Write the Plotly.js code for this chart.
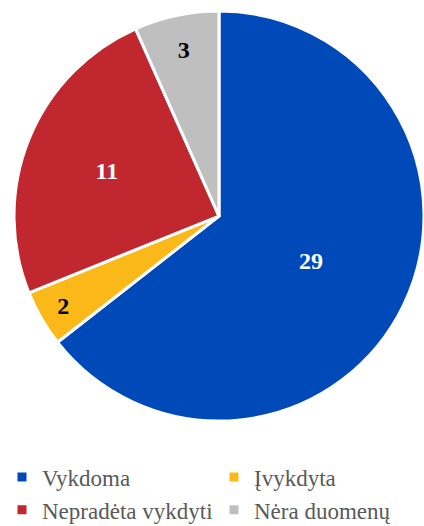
<!DOCTYPE html>
<html>
<head>
<meta charset="utf-8">
<script src="https://cdn.plot.ly/plotly-3.0.1.min.js"></script>
<style>html,body{margin:0;padding:0;background:#fff;}#chart{width:424px;height:526px;}</style>
</head>
<body>
<div id="chart"></div>
<script>
const labels = ["Vykdoma", "Įvykdyta", "Nepradėta vykdyti", "Nėra duomenų"];
const values = [29, 2, 11, 3];
const colors = ["#0049B9", "#FBB819", "#C0272F", "#BFBFBF"];
const textColors = ["#FFFFFF", "#000000", "#FFFFFF", "#000000"];

const serif = "Liberation Serif";

const trace = {
  type: "pie",
  labels: labels,
  values: values,
  sort: false,
  direction: "clockwise",
  rotation: 0,
  textinfo: "value",
  textposition: "inside",
  insidetextorientation: "horizontal",
  textfont: {family: serif, size: 24, color: textColors, weight: "bold"},
  insidetextfont: {family: serif, size: 24, color: textColors, weight: "bold"},
  marker: {colors: colors, line: {color: "#FFFFFF", width: 3}},
  domain: {x: [0.033, 1.0], y: [0.1996, 0.979]},
  hoverinfo: "label+value"
};

const layout = {
  width: 424,
  height: 526,
  margin: {l: 0, r: 0, t: 0, b: 0, autoexpand: false},
  paper_bgcolor: "#FFFFFF",
  font: {family: serif, color: "#595959"},
  showlegend: true,
  legend: {
    orientation: "h",
    x: 0.0047, xanchor: "left",
    y: 0.134, yanchor: "top",
    entrywidth: 167, entrywidthmode: "pixels",
    font: {family: serif, size: 23, color: "#595959"},
    traceorder: "normal"
  }
};

Plotly.newPlot("chart", [trace], layout, {displayModeBar: false});
</script>
</body>
</html>
